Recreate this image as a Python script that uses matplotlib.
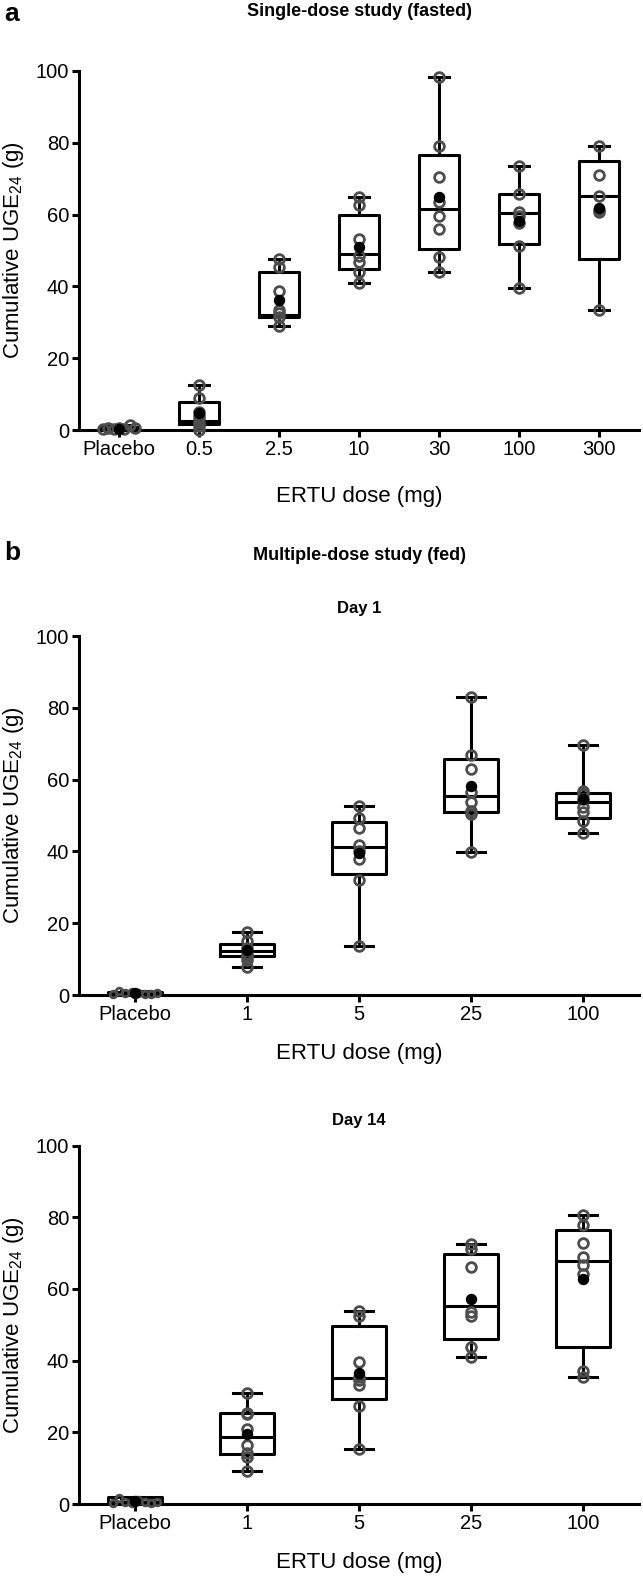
import numpy as np
import matplotlib
matplotlib.use("Agg")
import matplotlib.pyplot as plt

plt.rcParams['font.family'] = ['Liberation Sans', 'DejaVu Sans']
plt.rcParams['mathtext.default'] = 'regular'

# ---- panel a: single-dose study (fasted)
doses_a = ["Placebo", "0.5", "2.5", "10", "30", "100", "300"]
points_a = [
    [0.3, 0.5, 0.2, 0.6, 0.4, 1.4, 0.5],
    [12.5, 9.0, 5.0, 4.0, 3.0, 2.0, 1.0, 0.0],
    [47.5, 45.5, 38.8, 33.5, 32.5, 31.5, 29.0],
    [64.8, 62.7, 53.1, 48.5, 46.9, 43.9, 40.9],
    [98.2, 79.1, 70.6, 63.6, 59.7, 56.0, 48.3, 43.9],
    [73.4, 65.7, 60.8, 59.5, 57.6, 51.3, 39.5],
    [79.2, 71.0, 65.2, 61.2, 60.8, 33.4],
]
q1_a = [0.2, 1.6, 31.6, 44.8, 50.4, 51.7, 47.5]
med_a = [0.4, 2.6, 32.0, 48.9, 61.6, 60.4, 65.2]
q3_a = [0.8, 7.7, 43.9, 60.0, 76.6, 65.6, 74.9]
mean_a = [0.4, 4.6, 36.2, 51.1, 65.0, 58.3, 61.8]

# ---- panel b: multiple-dose study (fed)
doses_b = ["Placebo", "1", "5", "25", "100"]
points_day1 = [
    [0.3, 1.2, 0.5, 0.8, 0.6, 0.4, 0.3, 0.5],
    [17.6, 15.0, 13.2, 11.5, 10.8, 9.7, 7.8],
    [52.7, 49.4, 46.4, 41.8, 40.0, 37.9, 32.0, 13.6],
    [82.9, 66.9, 63.0, 56.5, 53.7, 51.3, 50.5, 39.9],
    [69.6, 56.9, 56.0, 54.5, 52.5, 51.0, 48.6, 45.2],
]
q1_day1 = [0.3, 10.9, 33.6, 51.1, 49.4]
med_day1 = [0.5, 12.3, 41.1, 55.4, 53.7]
q3_day1 = [0.8, 14.2, 48.3, 65.6, 56.4]
mean_day1 = [0.6, 12.5, 39.6, 58.3, 54.6]

points_day14 = [
    [0.3, 1.8, 0.6, 0.4, 1.0, 0.5, 0.3, 0.6],
    [31.0, 25.5, 25.0, 20.8, 16.5, 14.1, 13.0, 9.2],
    [53.9, 52.5, 39.5, 35.5, 34.6, 33.2, 27.3, 15.4],
    [72.5, 71.0, 66.0, 53.5, 52.5, 43.9, 41.1],
    [80.6, 77.8, 72.9, 69.0, 66.7, 64.2, 37.1, 35.5],
]
q1_day14 = [0.3, 13.9, 29.2, 46.0, 43.9]
med_day14 = [0.6, 18.6, 35.1, 55.3, 67.8]
q3_day14 = [1.9, 25.3, 49.7, 69.6, 76.4]
mean_day14 = [0.7, 19.4, 36.6, 57.1, 62.9]

W, H = 643, 1578
fig = plt.figure(figsize=(W / 100, H / 100), dpi=100)

LW = 2.2
GREY = '#4d4d4d'


def draw_panel(rect, labels, points, q1, med, q3, means, small_placebo=False):
    ax = fig.add_axes(rect)
    stats = []
    for i in range(len(labels)):
        stats.append(dict(med=med[i], q1=q1[i], q3=q3[i],
                          whislo=min(points[i]), whishi=max(points[i]),
                          fliers=[]))
    line = dict(color='black', linewidth=LW)
    ax.bxp(stats, positions=range(len(labels)), widths=0.49,
           showfliers=False, boxprops=line, whiskerprops=line,
           capprops=line, medianprops=line, manage_ticks=False)
    for i, pts in enumerate(points):
        if i == 0:
            xs = i + np.linspace(-0.2, 0.2, len(pts))
        else:
            xs = np.full(len(pts), float(i))
        ms = 4.8 if (i == 0 and small_placebo) else 7.0
        ax.plot(xs, pts, 'o', mfc='none', mec=GREY, mew=2.0, ms=ms,
                clip_on=False, zorder=3)
        ax.plot(i, means[i], 'o', color='black', ms=7.2, clip_on=False,
                zorder=4)
    ax.set_xlim(-0.5, len(labels) - 0.5)
    ax.set_ylim(0, 100)
    ax.set_yticks([0, 20, 40, 60, 80, 100])
    ax.set_xticks(range(len(labels)))
    ax.set_xticklabels(labels)
    for s in ['top', 'right']:
        ax.spines[s].set_visible(False)
    for s in ['left', 'bottom']:
        ax.spines[s].set_linewidth(LW)
    ax.tick_params(width=LW, length=5, labelsize=14.5, pad=2)
    ax.set_xlabel("ERTU dose (mg)", fontsize=16)
    return ax


left = 79 / W
width = 560 / W

ax_a = draw_panel([left, 1 - 430 / H, width, 359 / H], doses_a, points_a,
                  q1_a, med_a, q3_a, mean_a)
ax_a.xaxis.set_label_coords(0.5, -0.155)

ax_b1 = draw_panel([left, 1 - 995 / H, width, 359 / H], doses_b, points_day1,
                   q1_day1, med_day1, q3_day1, mean_day1, small_placebo=True)
ax_b1.xaxis.set_label_coords(0.5, -0.135)

ax_b2 = draw_panel([left, 1 - 1504 / H, width, 358.5 / H], doses_b,
                   points_day14, q1_day14, med_day14, q3_day14, mean_day14,
                   small_placebo=True)
ax_b2.xaxis.set_label_coords(0.5, -0.135)

# y labels
for ax, yc in [(ax_a, 250), (ax_b1, 815), (ax_b2, 1325)]:
    fig.text(14 / W, 1 - yc / H, "Cumulative UGE$_{24}$ (g)", rotation=90,
             ha='center', va='center', fontsize=16)

# panel letters and titles
cx = 359 / W
fig.text(4 / W, 1 - 14 / H, "a", fontsize=19, fontweight='bold',
         ha='left', va='center')
fig.text(cx, 1 - 12 / H, "Single-dose study (fasted)", fontsize=13,
         fontweight='bold', ha='center', va='center')
fig.text(4 / W, 1 - 553 / H, "b", fontsize=19, fontweight='bold',
         ha='left', va='center')
fig.text(cx, 1 - 556 / H, "Multiple-dose study (fed)", fontsize=13,
         fontweight='bold', ha='center', va='center')
fig.text(cx, 1 - 608 / H, "Day 1", fontsize=12, fontweight='bold',
         ha='center', va='center')
fig.text(cx, 1 - 1120 / H, "Day 14", fontsize=12, fontweight='bold',
         ha='center', va='center')

fig.savefig("out.png", dpi=100)
